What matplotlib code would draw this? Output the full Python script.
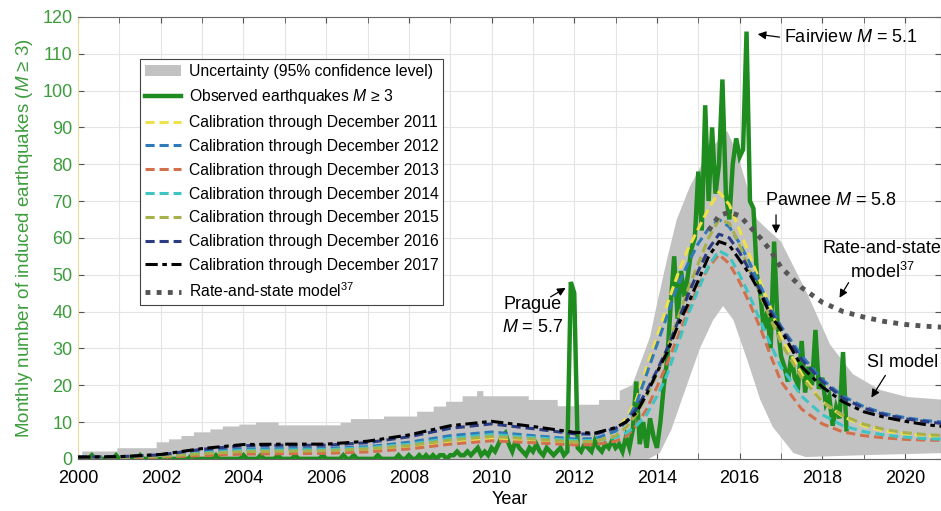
import numpy as np
import matplotlib
matplotlib.use("Agg")
from matplotlib import pyplot as plt
from matplotlib.patches import Patch
from matplotlib.lines import Line2D
from matplotlib.ticker import MultipleLocator

plt.rcParams['font.family'] = ['Liberation Sans', 'DejaVu Sans']
plt.rcParams['mathtext.fontset'] = 'custom'
plt.rcParams['mathtext.it'] = 'Liberation Sans:italic'
plt.rcParams['mathtext.rm'] = 'Liberation Sans'

# observed monthly counts of M>=3 events, Jan 2000 .. Jul 2018
observed = [
    0, 0, 0, 1, 0, 0, 0, 0, 0, 0, 1, 0,        # 2000
    0, 0, 0, 0, 0, 1, 0, 0, 0, 0, 0, 0,        # 2001
    0, 1, 0, 0, 0, 0, 0, 0, 1, 0, 0, 0,        # 2002
    0, 0, 0, 1, 0, 0, 0, 0, 0, 0, 0, 1,        # 2003
    0, 0, 0, 0, 1, 0, 0, 0, 0, 1, 0, 0,        # 2004
    0, 0, 1, 0, 0, 0, 0, 0, 0, 0, 1, 0,        # 2005
    0, 0, 0, 0, 1, 0, 0, 1, 0, 0, 0, 0,        # 2006
    0, 0, 1, 0, 0, 0, 0, 0, 1, 0, 0, 1,        # 2007
    0, 0, 1, 0, 1, 0, 1, 0, 1, 1, 0, 1,        # 2008
    1, 2, 1, 1, 2, 1, 2, 3, 1, 2, 1, 3,        # 2009
    2, 4, 6, 7, 4, 2, 5, 3, 2, 1, 3, 2,        # 2010
    4, 2, 1, 3, 2, 1, 2, 3, 1, 2, 48, 45,      # 2011
    3, 2, 4, 3, 2, 5, 3, 2, 4, 3, 5, 3,        # 2012
    4, 2, 6, 3, 8, 21, 4, 10, 3, 11, 6, 3,     # 2013
    10, 20, 27, 42, 55, 38, 51, 44, 50, 57, 60, 78,    # 2014
    62, 96, 70, 90, 72, 80, 103, 72, 65, 80, 87, 82,   # 2015
    84, 116, 70, 68, 50, 45, 35, 40, 30, 59, 37, 28,   # 2016
    25, 21, 28, 22, 20, 32, 18, 25, 20, 35, 19, 22,    # 2017
    15, 17, 9, 14, 11, 29, 8,                          # 2018
]
obs_years = 2000 + (np.arange(len(observed)) + 1) / 12

# model output years
model_years = [2000, 2001, 2002, 2003, 2004, 2005, 2006, 2007, 2008, 2009,
               2010, 2011, 2012, 2012.5, 2013, 2013.25, 2013.5, 2013.75,
               2014, 2014.25, 2014.5, 2014.75, 2015, 2015.25, 2015.5, 2015.75,
               2016, 2016.25, 2016.5, 2016.75, 2017, 2017.5, 2018, 2018.5,
               2019, 2019.5, 2020, 2020.5, 2021]

cal_2011 = [0.3, 0.4, 0.6, 1.1, 1.6, 1.8, 1.9, 2.4, 3.2, 4.6, 5.6, 5.0, 4.3,
            4.8, 7.5, 11, 16, 25, 33, 42, 50, 57, 62.5, 68, 72.5, 69, 62,
            55, 48, 41, 33, 23, 15.5, 11.5, 9, 7.6, 6.8, 6.3, 6.0]
cal_2012 = [0.4, 0.5, 0.9, 1.9, 2.7, 2.8, 2.8, 3.3, 4.5, 6.3, 7.3, 6.3, 5.4,
            5.5, 7.5, 10, 15, 23, 31, 39, 47, 53, 58.5, 62.5, 65, 63, 58.5,
            53, 47, 41, 36, 28, 21.5, 17, 14.2, 12.3, 11.2, 10.4, 9.9]
cal_2013 = [0.3, 0.3, 0.5, 0.9, 1.3, 1.4, 1.5, 1.9, 2.7, 4.0, 4.9, 4.4, 3.8,
            3.9, 4.8, 6, 9, 13.5, 19.5, 26, 33, 40, 47, 52, 55.5, 53, 48,
            42, 35.5, 28, 21, 13.5, 9.5, 7.3, 6.3, 5.7, 5.3, 5.1, 5.0]
cal_2014 = [0.4, 0.5, 0.8, 1.6, 2.3, 2.4, 2.5, 3.0, 4.0, 5.6, 6.6, 5.8, 5.0,
            5.0, 5.8, 7, 9, 12, 17, 23, 31, 39, 46, 52.5, 56.5, 55, 50,
            44, 37.5, 31, 25, 17, 12, 9, 7.4, 6.5, 5.9, 5.5, 5.3]
cal_2015 = [0.4, 0.5, 0.7, 1.4, 2.0, 2.1, 2.2, 2.7, 3.6, 5.1, 6.1, 5.4, 4.6,
            4.8, 6.2, 8.5, 12, 17, 23, 30, 38, 46, 53, 60, 65, 64, 58,
            51, 44.5, 38, 31.5, 22, 15.5, 11.8, 9.4, 8, 7.1, 6.6, 6.3]
cal_2016 = [0.5, 0.6, 1.1, 2.6, 3.6, 3.7, 3.7, 4.4, 6.0, 8.3, 9.5, 8.2, 6.8,
            6.7, 8.3, 10, 13.5, 18.5, 24, 30, 37, 44.5, 51, 57, 61, 60, 56,
            51, 45.5, 40, 35.5, 27, 21, 16.5, 13.8, 12, 10.9, 10.1, 9.5]
cal_2017 = [0.5, 0.6, 1.2, 2.8, 3.9, 4.0, 4.0, 4.8, 6.5, 9.0, 10.2, 8.8, 7.2,
            7.0, 8.5, 10, 12.5, 17.5, 23.5, 29, 36, 42, 48.5, 55, 59, 58, 54,
            50, 45, 39, 35, 25, 19.5, 15.5, 12.8, 11.3, 10.2, 9.3, 8.7]

rs_years = [2015.25, 2015.5, 2015.75, 2016, 2016.25, 2016.5, 2016.75, 2017,
            2017.5, 2018, 2018.5, 2019, 2019.5, 2020, 2020.5, 2021]
rate_state = [62, 66, 67, 66, 63, 60, 56.5, 52, 46.5, 42.5, 40, 38.5, 37.3,
              36.5, 36, 35.7]

# 95% confidence band (upper edge is stepped in the early years)
band_hi_years = [2000, 2000.1, 2000.1, 2000.95, 2000.95, 2001.9, 2001.9, 2002.2,
                 2002.2, 2002.5, 2002.5, 2002.8, 2002.8, 2003.2, 2003.2, 2003.5,
                 2003.5, 2003.9, 2003.9, 2004.3, 2004.3, 2004.85, 2004.85, 2006.35,
                 2006.35, 2006.6, 2006.6, 2007.4, 2007.4, 2008.2, 2008.2, 2008.6,
                 2008.6, 2008.9, 2008.9, 2009.3, 2009.3, 2009.65, 2009.65, 2009.8,
                 2009.8, 2010.9, 2010.9, 2011.6, 2011.6, 2012.1, 2012.1, 2012.6,
                 2012.6, 2013.1, 2013.1, 2013.4, 2013.6, 2013.83, 2014.0, 2014.24,
                 2014.48, 2014.8, 2015.28, 2015.7, 2015.94, 2016.18, 2016.42,
                 2016.7, 2017.0, 2017.63, 2018.19, 2018.74, 2019.4, 2020.05, 2021]
band_hi = [0.5, 0.5, 2.0, 2.0, 2.9, 2.9, 4.5, 4.5,
           5.3, 5.3, 6.2, 6.2, 7.2, 7.2, 8.0, 8.0,
           8.8, 8.8, 9.3, 9.3, 9.9, 9.9, 9.1, 9.1,
           9.8, 9.8, 10.8, 10.8, 11.5, 11.5, 12.8, 12.8,
           14.2, 14.2, 15.5, 15.5, 17.0, 17.0, 18.4, 18.4,
           17.0, 17.0, 16.0, 16.0, 14.3, 14.3, 14.7, 14.7,
           16.0, 16.0, 18.5, 20, 26, 33, 42, 54,
           65, 74, 84, 89, 83, 74, 65,
           62, 59, 45, 31, 23, 18.7, 16.8, 16]
band_lo_years = [2000, 2013.8, 2014.07, 2014.35, 2014.63, 2015.04, 2015.36, 2015.6,
                 2015.85, 2016.18, 2016.5, 2016.8, 2017.3, 2017.6, 2019, 2021]
band_lo = [0, 0, 1.6, 8, 17, 30, 37.7, 41.5, 37.7, 27, 16, 8.7, 1.6, 0.5, 1, 1.6]

cal_labels = ["Calibration through December %d" % y for y in range(2011, 2018)]
cal_series = [cal_2011, cal_2012, cal_2013, cal_2014, cal_2015, cal_2016, cal_2017]
cal_colors = ["#f0e04a", "#2f7ab8", "#d2704c", "#3fc4c4", "#a8b04c", "#2c3c82", "#000000"]

green = "#1e8c1e"
label_green = "#3c9c3c"
txt = 13

fig = plt.figure(figsize=(9.41, 5.11), dpi=100)
ax = fig.add_axes([0.083, 0.102, 0.917, 0.865])

band_x = band_hi_years + band_lo_years[::-1]
band_y = band_hi + band_lo[::-1]
ax.fill(band_x, band_y, color="#c2c2c2", lw=0, zorder=1)

ax.plot(obs_years, observed, color=green, lw=3.2, zorder=3, solid_joinstyle="miter")

for vals, col in zip(cal_series[:-1], cal_colors[:-1]):
    ax.plot(model_years, vals, color=col, lw=2.2, ls=(0, (3, 1.6)), zorder=4)
ax.plot(model_years, cal_2017, color="black", lw=2.2, ls=(0, (4, 1.5, 1.5, 1.5)), zorder=5)
ax.plot(rs_years, rate_state, color="#555555", lw=3.5, ls=(0, (1, 1.3)), zorder=5)

ax.set_xlim(2000, 2020.87)
ax.set_ylim(0, 120)
ax.xaxis.set_major_locator(MultipleLocator(2))
ax.xaxis.set_minor_locator(MultipleLocator(1))
ax.yaxis.set_major_locator(MultipleLocator(10))
ax.grid(True, which="both", color="#e4e4e4", lw=0.8, zorder=0)
ax.set_axisbelow(True)
ax.tick_params(which="both", direction="in", top=True, right=True, labelsize=txt,
               length=4, color="#555555")
ax.tick_params(axis="x", pad=8)
ax.tick_params(axis="y", labelcolor=label_green, pad=4)
for side in ["top", "bottom", "right"]:
    ax.spines[side].set_color("#666666")
ax.spines["left"].set_color("#e8dca0")

ax.set_xlabel("Year", fontsize=txt, labelpad=3)
ax.set_ylabel("Monthly number of induced earthquakes ($M$ ≥ 3)", fontsize=13.5,
              color=label_green, labelpad=5)

arrow = dict(arrowstyle="-|>", color="black", lw=0.9, mutation_scale=12)
ax.annotate("", xy=(2016.37, 115.4), xytext=(2017.03, 114.4), arrowprops=arrow)
ax.text(2017.08, 114.4, "Fairview $M$ = 5.1", fontsize=txt, va="center", ha="left")
ax.annotate("", xy=(2016.88, 60.5), xytext=(2016.88, 67), arrowprops=arrow)
ax.text(2018.2, 70.2, "Pawnee $M$ = 5.8", fontsize=txt, va="center", ha="center")
ax.annotate("", xy=(2018.38, 43.1), xytext=(2018.67, 48.5), arrowprops=arrow)
ax.text(2019.45, 57.2, "Rate-and-state", fontsize=txt, va="center", ha="center")
ax.text(2019.45, 50.8, "model$^{37}$", fontsize=txt, va="center", ha="center")
ax.annotate("", xy=(2019.15, 16), xytext=(2019.56, 23.3), arrowprops=arrow)
ax.text(2019.95, 26.2, "SI model", fontsize=txt, va="center", ha="center")
ax.annotate("", xy=(2011.85, 46.8), xytext=(2011.37, 43.6), arrowprops=arrow)
ax.text(2011.0, 42.0, "Prague", fontsize=txt, va="center", ha="center")
ax.text(2011.0, 35.8, "$M$ = 5.7", fontsize=txt, va="center", ha="center")

handles = [Patch(facecolor="#c2c2c2", edgecolor="none"),
           Line2D([], [], color=green, lw=3.2)]
for col in cal_colors[:-1]:
    handles.append(Line2D([], [], color=col, lw=2.2, ls=(0, (3, 1.6))))
handles.append(Line2D([], [], color="black", lw=2.2, ls=(0, (4, 1.5, 1.5, 1.5))))
handles.append(Line2D([], [], color="#555555", lw=3.5, ls=(0, (1, 1.3))))
labels = ["Uncertainty (95% confidence level)", "Observed earthquakes $M$ ≥ 3"] + \
    cal_labels + ["Rate-and-state model$^{37}$"]
leg = ax.legend(handles, labels, loc="upper left", bbox_to_anchor=(0.072, 0.905),
                fontsize=11.3, frameon=True, fancybox=False, edgecolor="#444444",
                framealpha=1, handlelength=2.3, handletextpad=0.5,
                labelspacing=0.56, borderpad=0.3, borderaxespad=0)
leg.get_frame().set_linewidth(0.8)
leg.set_zorder(10)

plt.savefig("out.png", dpi=100)
